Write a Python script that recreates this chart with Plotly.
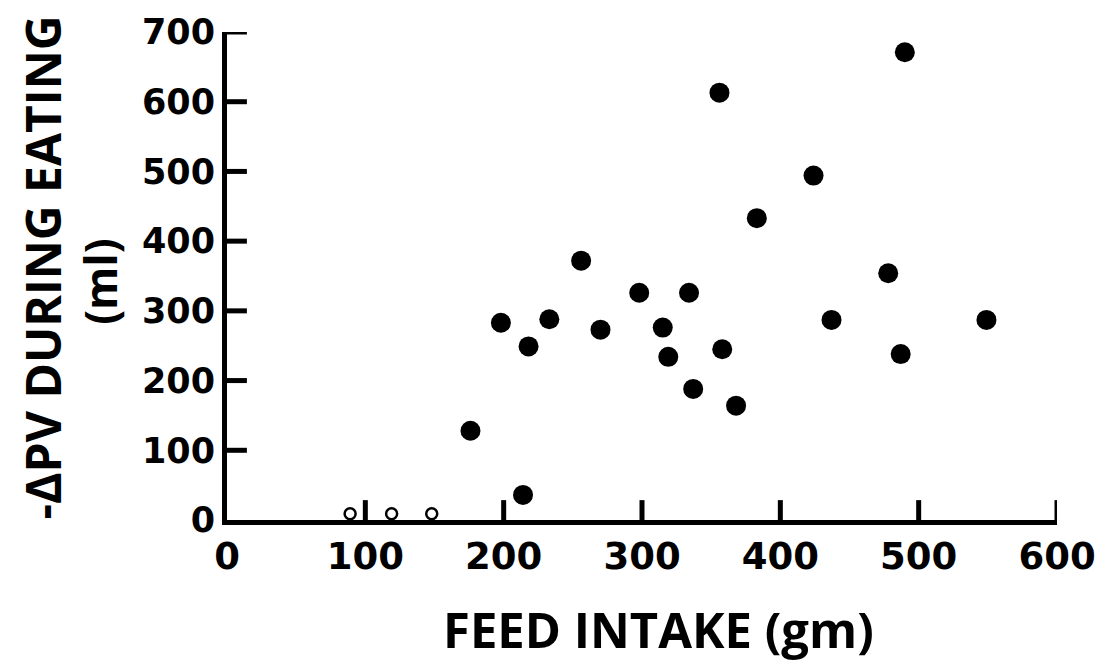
import plotly.graph_objects as go

# Feed intake (gm) and plasma volume drop (ml) during eating
feed_intake = [176, 198, 214, 218, 233, 256, 270, 298, 315, 319, 334,
               337, 356, 358, 368, 383, 424, 437, 478, 487, 490, 549]
delta_pv = [128, 283, 36, 249, 288, 372, 273, 326, 276, 234, 326,
            188, 613, 245, 164, 433, 494, 287, 354, 238, 671, 287]

# Meals with no measurable change, shown as open circles on the baseline
feed_intake_zero = [89, 119, 148]
delta_pv_zero = [9, 9, 9]

x_ticks = [0, 100, 200, 300, 400, 500, 600]
y_ticks = [0, 100, 200, 300, 400, 500, 600, 700]

TICK_FONT = "DejaVu Sans"
TITLE_FONT = "Open Sans"

WIDTH, HEIGHT = 1108, 665
MARGIN = dict(l=227, r=47, t=29, b=145)
PLOT_W = WIDTH - MARGIN["l"] - MARGIN["r"]
PLOT_H = HEIGHT - MARGIN["t"] - MARGIN["b"]
TICK_LEN = 20  # px, ticks point into the plot

fig = go.Figure()
fig.add_trace(go.Scatter(
    x=feed_intake, y=delta_pv, mode="markers",
    marker=dict(size=20, color="black", line=dict(width=0)),
    cliponaxis=False, showlegend=False,
))
fig.add_trace(go.Scatter(
    x=feed_intake_zero, y=delta_pv_zero, mode="markers",
    marker=dict(size=11, color="white", line=dict(width=2.5, color="black")),
    cliponaxis=False, showlegend=False,
))

axis_common = dict(
    showgrid=False, zeroline=False, showline=True,
    linecolor="black", linewidth=5, ticks="",
)
fig.update_xaxes(
    range=[0, 600], tickvals=x_ticks,
    tickfont=dict(family=TICK_FONT, size=37, color="black", weight="bold"),
    **axis_common,
)
fig.update_yaxes(
    range=[0, 700], tickvals=y_ticks,
    tickfont=dict(family=TICK_FONT, size=35, color="black", weight="bold"),
    **axis_common,
)

# inward tick marks
tick_line = dict(color="black", width=5)
for v in x_ticks[1:]:
    fig.add_shape(type="line", xref="x", yref="paper",
                  x0=v, x1=v, y0=0, y1=TICK_LEN / PLOT_H, line=tick_line)
for v in y_ticks[1:]:
    fig.add_shape(type="line", xref="paper", yref="y",
                  x0=0, x1=TICK_LEN / PLOT_W, y0=v, y1=v, line=tick_line)

fig.add_annotation(
    text="-ΔPV DURING EATING", xref="paper", yref="paper",
    x=-0.222, y=0.517, xanchor="center", yanchor="middle",
    textangle=-90, showarrow=False,
    font=dict(family=TITLE_FONT, size=48, color="black", weight="bold"),
)
fig.add_annotation(
    text="(ml)", xref="paper", yref="paper",
    x=-0.153, y=0.488, xanchor="center", yanchor="middle",
    textangle=-90, showarrow=False,
    font=dict(family=TITLE_FONT, size=44, color="black", weight="bold"),
)
fig.add_annotation(
    text="FEED INTAKE (gm)", xref="paper", yref="paper",
    x=0.52, y=-0.224, xanchor="center", yanchor="middle",
    showarrow=False,
    font=dict(family=TITLE_FONT, size=49, color="black", weight="bold"),
)

fig.update_layout(
    width=WIDTH, height=HEIGHT, margin=MARGIN,
    paper_bgcolor="white", plot_bgcolor="white",
)

fig.write_html("out.html")
